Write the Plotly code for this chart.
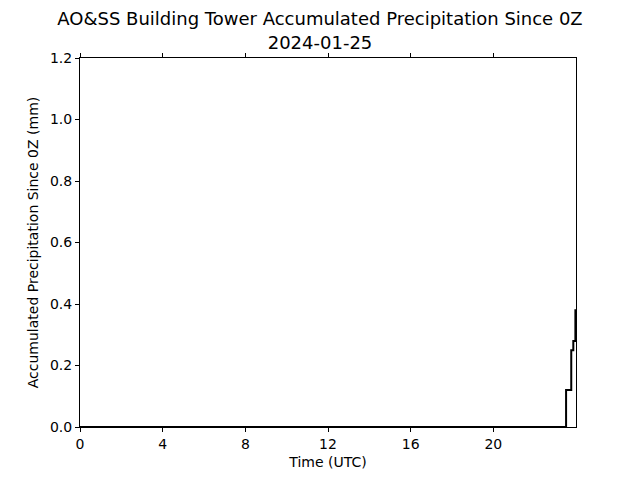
import plotly.graph_objects as go

times = [0.0, 23.52, 23.77, 23.87, 23.97, 24.0]
precip = [0.0, 0.12, 0.25, 0.28, 0.38, 0.38]
xticks = [0, 4, 8, 12, 16, 20]
yticks = [0.0, 0.2, 0.4, 0.6, 0.8, 1.0, 1.2]

fig = go.Figure()
fig.add_trace(go.Scatter(x=times, y=precip, mode="lines", line=dict(color="black", width=2, shape="hv"),
                         showlegend=False))

font = "DejaVu Sans, sans-serif"
fig.update_layout(
    width=640, height=480,
    margin=dict(l=72, r=72, t=50, b=61),
    plot_bgcolor="white", paper_bgcolor="white",
    font=dict(family=font, size=14, color="black"),
    title=dict(text="AO&SS Building Tower Accumulated Precipitation Since 0Z<br>2024-01-25",
               x=0.4875, xanchor="center", y=0.964, yanchor="top", font=dict(size=18, family=font)),
)
fig.update_xaxes(range=[0, 24], tickvals=xticks, ticktext=[str(v) for v in xticks],
                 showgrid=False, zeroline=False, showline=True, linecolor="black", linewidth=1,
                 mirror="ticks", ticks="outside", ticklen=4, tickcolor="black",
                 title=dict(text="Time (UTC)", standoff=6, font=dict(size=14)))
fig.update_yaxes(range=[0, 1.2], tickvals=yticks, ticktext=[f"{v:.1f}" for v in yticks],
                 showgrid=False, zeroline=False, showline=True, linecolor="black", linewidth=1,
                 mirror=True, ticks="outside", ticklen=4, tickcolor="black",
                 title=dict(text="Accumulated Precipitation Since 0Z (mm)", standoff=8, font=dict(size=14)))

fig.write_html("out.html")
